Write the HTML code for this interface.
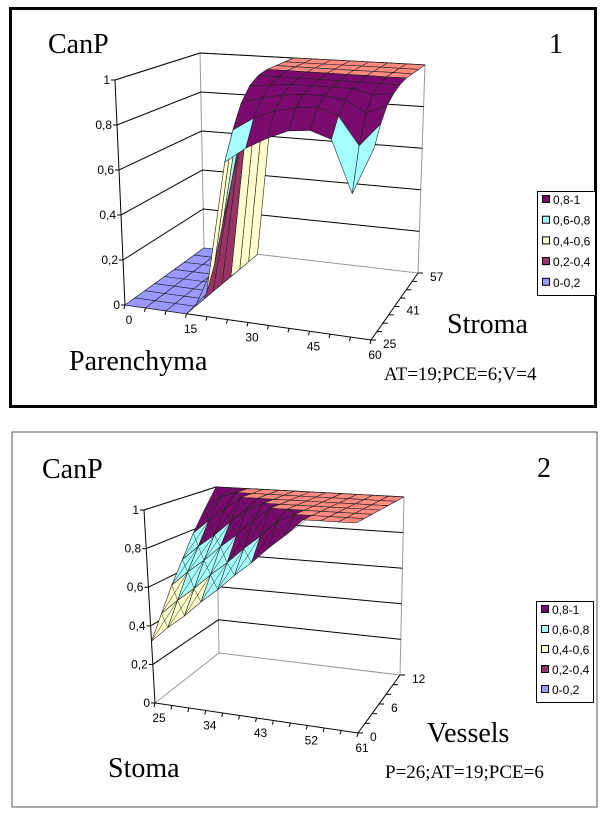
<!DOCTYPE html>
<html><head><meta charset="utf-8">
<style>
html,body{margin:0;padding:0;background:#fff;}
body{width:600px;height:813px;position:relative;overflow:hidden;font-family:"Liberation Sans",sans-serif;}
svg{position:absolute;left:0;top:0;}
.serif{font-family:"Liberation Serif",serif;}
</style></head>
<body>
<svg id="chart" width="600" height="813" viewBox="0 0 600 813" xmlns="http://www.w3.org/2000/svg">
  <rect x="10.5" y="8.5" width="585" height="398" fill="#fff" stroke="#000" stroke-width="3"/>
  <rect x="12" y="432" width="585" height="375" fill="#fff" stroke="#555" stroke-width="1"/>
  <g id="p1"></g>
  <g id="p2"></g>
  <text class="serif" x="48" y="53" font-size="28">CanP</text>
  <text class="serif" x="549" y="53" font-size="28">1</text>
  <text class="serif" x="69" y="370" font-size="28">Parenchyma</text>
  <text class="serif" x="447" y="333" font-size="28">Stroma</text>
  <text class="serif" x="384" y="380" font-size="19">AT=19;PCE=6;V=4</text>
  <text class="serif" x="42" y="478" font-size="28">CanP</text>
  <text class="serif" x="537" y="477" font-size="28">2</text>
  <text class="serif" x="108" y="777" font-size="28">Stoma</text>
  <text class="serif" x="427" y="742" font-size="28">Vessels</text>
  <text class="serif" x="385" y="778" font-size="19">P=26;AT=19;PCE=6</text>
</svg>
<script>
// ---- Chart 1 data ----
const c1Parenchyma = [0,5,10,15,20,25,30,35,40,45,50,55,60];
const c1Stroma = [25,29,33,37,41,45,49,53,57];
const c1XTicks = ["0","15","30","45","60"];
const c1YTicks = ["25","41","57"];
const c1ZTicks = ["0","0,2","0,4","0,6","0,8","1"];
const c1Row25 = [0,0,0,0,0.1,0.68,0.75,0.8,0.84,0.85,0.82,0.6,0.8];
const c1Row29 = [0,0,0,0,0.2,0.8,0.86,0.9,0.92,0.93,0.9,0.78,0.88];
const c1Row33 = [0,0,0,0,0.35,0.9,0.93,0.95,0.96,0.96,0.95,0.9,0.94];
const c1Row37 = [0,0,0,0,0.5,0.96,0.97,0.98,0.98,0.98,0.98,0.96,0.97];
const c1Row41 = [0,0,0,0,0.65,0.99,0.99,0.99,0.99,0.99,0.99,0.99,0.99];
const c1Row45 = [0,0,0,0,0.8,1,1,1,1,1,1,1,1];
const c1Row49 = [0,0,0,0,0.85,1,1,1,1,1,1,1,1];
const c1Row53 = [0,0,0,0,0.9,1,1,1,1,1,1,1,1];
const c1Row57 = [0,0,0,0,0.92,1,1,1,1,1,1,1,1];
// ---- Chart 2 data ----
const c2Stoma = [25,28,31,34,37,40,43,46,49,52,55,58,61];
const c2Vessels = [0,2,4,6,8,10,12];
const c2XTicks = ["25","34","43","52","61"];
const c2YTicks = ["0","6","12"];
const c2ZTicks = ["0","0,2","0,4","0,6","0,8","1"];
const c2Row0 = [0.32,0.40,0.47,0.55,0.62,0.70,0.77,0.85,0.92,1,1,1,1];
const c2Row2 = [0.43,0.51,0.58,0.66,0.73,0.81,0.88,0.96,1,1,1,1,1];
const c2Row4 = [0.55,0.63,0.70,0.78,0.85,0.93,1,1,1,1,1,1,1];
const c2Row6 = [0.66,0.74,0.81,0.89,0.96,1,1,1,1,1,1,1,1];
const c2Row8 = [0.78,0.86,0.93,1,1,1,1,1,1,1,1,1,1];
const c2Row10 = [0.89,0.97,1,1,1,1,1,1,1,1,1,1,1];
const c2Row12 = [1,1,1,1,1,1,1,1,1,1,1,1,1];
const legendLabels = ["0,8-1","0,6-0,8","0,4-0,6","0,2-0,4","0-0,2"];

const NS = "http://www.w3.org/2000/svg";
const bandColors = ["#9999FF","#993366","#FFFFCC","#A6FFFF","#7A0A6E"];
const topColor = "#FF8A80";
function mk(tag, attrs, parent){const e=document.createElementNS(NS,tag);for(const k in attrs)e.setAttribute(k,attrs[k]);parent.appendChild(e);return e;}
function lerp(a,b,t){return [a[0]+(b[0]-a[0])*t,a[1]+(b[1]-a[1])*t];}
function makeProj(g){
  return function(u,w,v){
    const b=lerp(lerp(g.bFL,g.bFR,u),lerp(g.bBL,g.bBR,u),w);
    const t=lerp(lerp(g.tFL,g.tFR,u),lerp(g.tBL,g.tBR,u),w);
    return lerp(b,t,v);
  };
}
function colorFor(v){
  if(v>=0.999) return topColor;
  const i=Math.max(0,Math.min(4,Math.floor(v/0.2)));
  return bandColors[i];
}
function drawChart(root, geo, xs, ys, rows, xTicks, yTicks, zTicks, legend, diag){
  const P=makeProj(geo);
  const xMin=xs[0], xMax=xs[xs.length-1], yMin=ys[0], yMax=ys[ys.length-1];
  const xu=x=>(x-xMin)/(xMax-xMin);
  const yw=y=>(y-yMin)/(yMax-yMin);
  const pt=p=>p[0].toFixed(1)+","+p[1].toFixed(1);
  const walls=mk("g",{},root);
  
  
  mk("polyline",{points:[P(0,0,1),P(0,1,1),P(1,1,1),P(1,1,0)].map(pt).join(" "),fill:"none",stroke:"#999","stroke-width":1},walls);
  mk("polyline",{points:[P(0,0,0),P(0,1,0),P(0,1,1)].map(pt).join(" "),fill:"none",stroke:"#999","stroke-width":1},walls);
  mk("line",{x1:P(0,1,0)[0],y1:P(0,1,0)[1],x2:P(1,1,0)[0],y2:P(1,1,0)[1],stroke:"#999"},walls);
  for(let i=1;i<zTicks.length;i++){
    const v=i/(zTicks.length-1);
    const gl=mk("polyline",{points:[P(0,0,v),P(0,1,v),P(1,1,v)].map(pt).join(" "),fill:"none",stroke:"#000","stroke-width":1},walls);
    
    
  }
  const ax=mk("g",{},root);
  
  
  mk("polyline",{points:[P(0,0,1),P(0,0,0),P(1,0,0),P(1,1,0)].map(pt).join(" "),fill:"none",stroke:"#000","stroke-width":1},ax);
  zTicks.forEach((lab,i)=>{
    const p=P(0,0,i/(zTicks.length-1));
    mk("line",{x1:p[0]-4,y1:p[1],x2:p[0],y2:p[1],stroke:"#000"},ax);
    const t=mk("text",{x:p[0]-5,y:p[1]+4,"font-size":12,"text-anchor":"end"},ax);
    t.textContent=lab;
    
    
  });
  xs.forEach(x=>{const p=P(xu(x),0,0);mk("line",{x1:p[0],y1:p[1],x2:p[0]-1,y2:p[1]+4,stroke:"#000"},ax);});
  xTicks.forEach(lab=>{
    const p=P(xu(+lab),0,0);
    const t=mk("text",{x:p[0]+4,y:p[1]+19,"font-size":12,"text-anchor":"middle"},ax);
    t.textContent=lab;
    
    
  });
  ys.forEach(y=>{const p=P(1,yw(y),0);mk("line",{x1:p[0],y1:p[1],x2:p[0]+5,y2:p[1],stroke:"#000"},ax);});
  yTicks.forEach(lab=>{
    const p=P(1,yw(+lab),0);
    const t=mk("text",{x:p[0]+12,y:p[1]+8,"font-size":12},ax);
    t.textContent=lab;
    
    
  });
  const surf=mk("g",{},root);
  
  
  for(let k=ys.length-2;k>=0;k--){
    for(let i=0;i<xs.length-1;i++){
      const u0=xu(xs[i]),u1=xu(xs[i+1]),w0=yw(ys[k]),w1=yw(ys[k+1]);
      const a=rows[k][i],b=rows[k][i+1],c=rows[k+1][i+1],d=rows[k+1][i];
      const pa=P(u0,w0,a),pb=P(u1,w0,b),pc=P(u1,w1,c),pd=P(u0,w1,d);
      const avg=(a+b+c+d)/4;
      const q=mk("polygon",{points:[pa,pb,pc,pd].map(pt).join(" "),fill:colorFor(avg),stroke:"#222","stroke-width":0.6,"stroke-linejoin":"round"},surf);
      
      
      if(diag && avg<0.999){
        mk("line",{x1:pa[0],y1:pa[1],x2:pc[0],y2:pc[1],stroke:"#222","stroke-width":0.5},surf);
        mk("line",{x1:pb[0],y1:pb[1],x2:pd[0],y2:pd[1],stroke:"#222","stroke-width":0.5},surf);
      }
    }
  }
  const lg=mk("g",{},root);
  
  
  mk("rect",{x:legend.x+0.5,y:legend.y+0.5,width:legend.w,height:legend.h,fill:"#fff",stroke:"#000"},lg);
  legendLabels.forEach((lab,i)=>{
    const yy=legend.y+11+i*legend.step;
    const e=mk("g",{},lg);
    
    
    mk("rect",{x:legend.x+5.5,y:yy-6.5,width:7,height:7,fill:bandColors[4-i],stroke:"#000","stroke-width":1},e);
    const t=mk("text",{x:legend.x+16,y:yy+2,"font-size":12},e);
    t.textContent=lab;
  });
}
const g1={bFL:[125,305],bFR:[371,340],bBL:[204,248],bBR:[418,273],tFL:[115,80],tFR:[375,100],tBL:[200,53],tBR:[425,65]};
const g2={bFL:[155,703],bFR:[358,733],bBL:[219,653],bBR:[400,675],tFL:[144,510],tFR:[356,523],tBL:[216,487],tBR:[404,497]};
drawChart(document.getElementById('p1'),g1,c1Parenchyma,c1Stroma,
  [c1Row25,c1Row29,c1Row33,c1Row37,c1Row41,c1Row45,c1Row49,c1Row53,c1Row57],
  c1XTicks,c1YTicks,c1ZTicks,{x:537,y:191,w:58,h:104,step:20.7},false);
drawChart(document.getElementById('p2'),g2,c2Stoma,c2Vessels,
  [c2Row0,c2Row2,c2Row4,c2Row6,c2Row8,c2Row10,c2Row12],
  c2XTicks,c2YTicks,c2ZTicks,{x:536,y:601,w:57,h:101,step:20},true);
</script>
</body></html>
